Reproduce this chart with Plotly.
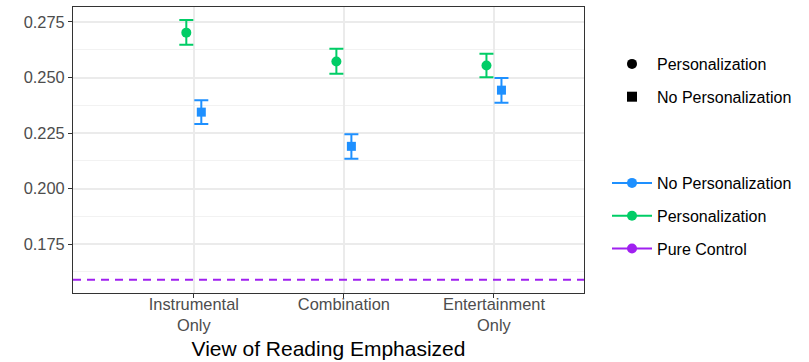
import plotly.graph_objects as go

categories = ["Instrumental<br>Only", "Combination", "Entertainment<br>Only"]
cat_pos = [1, 2, 3]

pers_mean = [0.2702, 0.2572, 0.2554]
pers_low = [0.2648, 0.2517, 0.2501]
pers_high = [0.2759, 0.2629, 0.2607]

nopers_mean = [0.2344, 0.2190, 0.2443]
nopers_low = [0.2291, 0.2134, 0.2386]
nopers_high = [0.2398, 0.2244, 0.2498]

pure_control = 0.1589

dodge = 0.05
GREEN = "#00CD66"
BLUE = "#1E90FF"
PURPLE = "#A020F0"
FONT = "Liberation Sans, Arial, sans-serif"
W, H = 809, 362

fig = go.Figure()

fig.add_trace(go.Scatter(
    x=[p - dodge for p in cat_pos], y=pers_mean, mode="markers",
    marker=dict(symbol="circle", size=10, color=GREEN),
    error_y=dict(type="data", symmetric=False,
                 array=[h - m for h, m in zip(pers_high, pers_mean)],
                 arrayminus=[m - l for m, l in zip(pers_mean, pers_low)],
                 color=GREEN, thickness=2, width=7),
    showlegend=False, hoverinfo="skip"))

fig.add_trace(go.Scatter(
    x=[p + dodge for p in cat_pos], y=nopers_mean, mode="markers",
    marker=dict(symbol="square", size=9, color=BLUE),
    error_y=dict(type="data", symmetric=False,
                 array=[h - m for h, m in zip(nopers_high, nopers_mean)],
                 arrayminus=[m - l for m, l in zip(nopers_mean, nopers_low)],
                 color=BLUE, thickness=2, width=7),
    showlegend=False, hoverinfo="skip"))

fig.add_shape(type="line", xref="paper", x0=0, x1=1, yref="y",
              y0=pure_control, y1=pure_control,
              line=dict(color=PURPLE, width=2, dash="8px,6px"))

# shape legend
for i, (name, sym) in enumerate([("Personalization", "circle"), ("No Personalization", "square")]):
    fig.add_trace(go.Scatter(x=[None], y=[None], mode="markers", name=name,
                             marker=dict(symbol=sym, size=10, color="black"),
                             legend="legend", legendgroup="s%d" % i))

# colour legend
for i, (name, col) in enumerate([("No Personalization", BLUE), ("Personalization", GREEN), ("Pure Control", PURPLE)]):
    fig.add_trace(go.Scatter(x=[None], y=[None], mode="lines+markers", name=name,
                             line=dict(color=col, width=2),
                             marker=dict(symbol="circle", size=10, color=col),
                             legend="legend2", legendgroup="c%d" % i))

leg_common = dict(xref="container", yref="container", xanchor="left", yanchor="top",
                  font=dict(size=16, color="black"), tracegroupgap=9,
                  itemwidth=40,
                  traceorder="grouped", bgcolor="rgba(0,0,0,0)")

fig.update_layout(
    width=W, height=H,
    margin=dict(l=73, r=225, t=7, b=69, autoexpand=False),
    paper_bgcolor="white", plot_bgcolor="white",
    font=dict(family=FONT, color="black"),
    legend=dict(x=607 / W, y=(H - 47) / H, **leg_common),
    legend2=dict(x=607 / W, y=(H - 166) / H, **leg_common),
    xaxis=dict(range=[0.195, 3.6], tickmode="array", tickvals=cat_pos,
               ticktext=categories, ticks="outside", ticklen=4, tickcolor="#333333",
               tickwidth=1, tickfont=dict(size=16.4, color="#4D4D4D"),
               ticklabelstandoff=-8,
               showgrid=True, gridcolor="#EBEBEB", gridwidth=1.5,
               showline=True, linecolor="#333333", linewidth=1, mirror=True,
               zeroline=False, automargin=False,
               title=dict(text="View of Reading Emphasized",
                          font=dict(size=21, color="black"), standoff=8)),
    yaxis=dict(range=[0.15295, 0.28175], tickmode="array",
               tickvals=[0.175, 0.200, 0.225, 0.250, 0.275],
               ticktext=["0.175", "0.200", "0.225", "0.250", "0.275"],
               ticks="outside", ticklen=4, tickcolor="#333333", tickwidth=1,
               tickfont=dict(size=16.4, color="#4D4D4D"),
               showgrid=True, gridcolor="#EBEBEB", gridwidth=1.5,
               minor=dict(tickvals=[0.1625, 0.1875, 0.2125, 0.2375, 0.2625],
                          showgrid=True, gridcolor="#F2F2F2", gridwidth=1, ticks=""),
               showline=True, linecolor="#333333", linewidth=1, mirror=True,
               zeroline=False, automargin=False),
)

fig.write_html("out.html", config={"displayModeBar": False},
               post_script="document.body.style.margin='0';document.body.style.overflow='hidden';")
